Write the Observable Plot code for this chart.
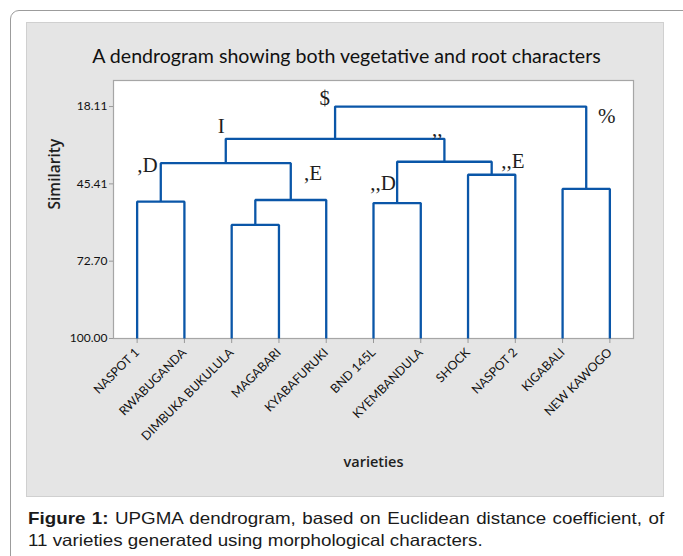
<!DOCTYPE html>
<html>
<head>
<meta charset="utf-8">
<script src="https://cdn.jsdelivr.net/npm/d3@7"></script>
<script src="https://cdn.jsdelivr.net/npm/@observablehq/plot@0.6"></script>
<style>
  html, body { margin: 0; padding: 0; background: #fff; }
  body { width: 683px; height: 556px; overflow: hidden; position: relative; font-family: Lato, sans-serif; }
  #outer { position: absolute; left: 10px; top: 10px; width: 740px; height: 640px; border: 1px solid #9c9c9c; border-radius: 9px; box-sizing: border-box; }
  #panel { position: absolute; left: 26px; top: 22px; width: 638px; height: 475px; background: #e5e5e5; border: 1px solid #d0d0d0; box-sizing: border-box; }
  #chart { position: absolute; left: 0; top: 0; }
  #caption { position: absolute; left: 28px; top: 508px; width: 559px; transform: scaleX(1.138); transform-origin: 0 0;
             font-family: "Liberation Sans", Arial, sans-serif; font-size: 16.5px; line-height: 21.5px; color: #1a1a1a; }
  #caption .l1 { text-align: justify; text-align-last: justify; white-space: nowrap; }
  #caption b { font-weight: bold; }
</style>
</head>
<body>
<div id="outer"></div>
<div id="panel"><div id="chart"></div></div>
<div id="caption">
  <div class="l1"><b>Figure 1:</b> UPGMA dendrogram, based on Euclidean distance coefficient, of</div>
  <div>11 varieties generated using morphological characters.</div>
</div>
<script>
// ---- data ----
const title = "A dendrogram showing both vegetative and root characters";
const xTitle = "varieties";
const yTitle = "Similarity";
const leaves = ["NASPOT 1", "RWABUGANDA", "DIMBUKA BUKULULA", "MAGABARI", "KYABAFURUKI",
                "BND 145L", "KYEMBANDULA", "SHOCK", "NASPOT 2", "KIGABALI", "NEW KAWOGO"];
// merges: node ids 0..10 are leaves, 11..20 are the merges in this order
const mergeA   = [0, 2, 12, 11, 5, 7, 15, 14, 9, 18];
const mergeB   = [1, 3, 4, 13, 6, 8, 16, 17, 10, 19];
const mergeSim = [51.7, 59.9, 51.1, 38.1, 52.2, 42.2, 37.6, 29.5, 47.2, 18.11];
const yTicks = [18.11, 45.41, 72.70, 100.00];
const yTop = 8.92;
// cluster annotations (as printed in the figure)
const clusterLabels = [",D", "I", ",E", "$", ",,", ",,D", ",,E", "%"];
const labelX = [0.0, 1.78, 3.53, 3.97, 6.24, 4.93, 7.70, 9.75];
const labelY = [41.3, 27.4, 44.0, 17.4, 28.4, 47.6, 39.8, 23.8];
const labelAnchor = ["start", "middle", "start", "middle", "start", "start", "start", "start"];

// ---- build tree geometry ----
const nodeX = leaves.map((_, i) => i);
const nodeY = leaves.map(() => 100);
const segs = [];
mergeA.forEach((a, k) => {
  const b = mergeB[k], h = mergeSim[k];
  nodeX.push((nodeX[a] + nodeX[b]) / 2);
  nodeY.push(h);
  segs.push({id: k, x: nodeX[a], y: nodeY[a]});
  segs.push({id: k, x: nodeX[a], y: h});
  segs.push({id: k, x: nodeX[b], y: h});
  segs.push({id: k, x: nodeX[b], y: nodeY[b]});
});
const labels = clusterLabels.map((t, i) => ({t, x: labelX[i], y: labelY[i], a: labelAnchor[i]}));

const blue = "#0a56a8";
const serif = "'Liberation Serif', 'Times New Roman', serif";
const chart = Plot.plot({
  width: 636,
  height: 473,
  marginLeft: 86,
  marginRight: 30,
  marginTop: 57,
  marginBottom: 158,
  style: {background: "transparent", fontFamily: "Lato, sans-serif", fontSize: "11.5px", color: "#1e1e1e"},
  x: {type: "linear", domain: [-0.5, leaves.length - 0.5]},
  y: {type: "linear", domain: [100, yTop]},
  marks: [
    Plot.frame({fill: "white", stroke: "#a6a6a6", strokeWidth: 1.2}),
    Plot.axisY({ticks: yTicks, tickFormat: d => d.toFixed(2), tickSize: 4, tickPadding: 2, fontSize: 12,
                stroke: "#999", fill: "#111", label: null}),
    Plot.axisX({ticks: d3.range(leaves.length), tickFormat: i => leaves[i], tickRotate: -45,
                tickSize: 5, tickPadding: 7, fontSize: 12.3, stroke: "#999", fill: "#111", label: null}),
    Plot.line(segs, {x: "x", y: "y", z: "id", stroke: blue, strokeWidth: 2.3, strokeLinejoin: "miter", strokeLinecap: "butt"}),
    Plot.text(labels.filter(d => d.a === "start"), {x: "x", y: "y", text: "t", textAnchor: "start", lineAnchor: "bottom",
              fontFamily: serif, fontSize: 21, fill: "#1e1e1e"}),
    Plot.text(labels.filter(d => d.a === "middle"), {x: "x", y: "y", text: "t", textAnchor: "middle", lineAnchor: "bottom",
              fontFamily: serif, fontSize: 21, fill: "#1e1e1e"}),
    Plot.text([title], {frameAnchor: "top", dx: -27, dy: -18, lineAnchor: "bottom", fontSize: 19.6, fill: "#111"}),
    Plot.text([yTitle], {frameAnchor: "left", dx: -58, rotate: -90, fontFamily: "'Open Sans', sans-serif",
              fontSize: 15.5, fontWeight: 600, fill: "#1e1e1e"}),
    Plot.text([xTitle], {frameAnchor: "bottom", dy: 128, fontFamily: "'Open Sans', sans-serif",
              fontSize: 14.5, fontWeight: 600, fill: "#1e1e1e"})
  ]
});
document.getElementById("chart").appendChild(chart);
</script>
</body>
</html>
